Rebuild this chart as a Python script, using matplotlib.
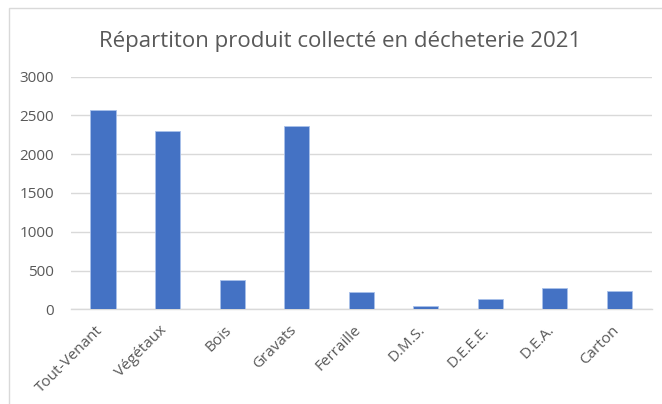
import matplotlib
matplotlib.use("Agg")
import matplotlib.pyplot as plt
from matplotlib.patches import Rectangle
from matplotlib.transforms import ScaledTranslation

categories = ["Tout-Venant", "Végétaux", "Bois", "Gravats", "Ferraille",
              "D.M.S.", "D.E.E.E.", "D.E.A.", "Carton"]
values = [2572, 2298, 374, 2358, 225, 45, 133, 270, 240]
yticks = [0, 500, 1000, 1500, 2000, 2500, 3000]
title = "Répartiton produit collecté en décheterie 2021"

W, H = 662, 404
fig = plt.figure(figsize=(W / 100, H / 100), dpi=100)
fig.patch.set_facecolor("white")

# outer chart border
fig.patches.append(Rectangle((9 / W, -0.05), 1.2, (H - 8) / H + 0.05,
                             transform=fig.transFigure, fill=False,
                             edgecolor="#d9d9d9", linewidth=1.0))

ax = fig.add_axes([70.7 / W, (H - 309.3) / H, (651.7 - 70.7) / W,
                   (309.3 - 76.7) / H])
x = list(range(len(categories)))
ax.bar(x, values, width=0.39, color="#4472C4", edgecolor="#a9c1ea",
       linewidth=0.6, zorder=3)
ax.set_xlim(-0.5, len(categories) - 0.5)
ax.set_ylim(0, 3000)
ax.set_yticks(yticks)
ax.set_yticklabels([str(v) for v in yticks])
ax.yaxis.grid(True, color="#d9d9d9", linewidth=1.0, zorder=0)
ax.set_axisbelow(True)
for s in ["top", "right", "left"]:
    ax.spines[s].set_visible(False)
ax.spines["bottom"].set_color("#d9d9d9")
ax.spines["bottom"].set_linewidth(1.0)
ax.tick_params(axis="both", length=0, colors="#595959", labelsize=11)
ax.tick_params(axis="y", pad=12)
ax.set_xticks(x)
ax.set_xticklabels(categories, rotation=45, ha="right", va="top",
                   rotation_mode="anchor")
ax.tick_params(axis="x", pad=6)
off = ScaledTranslation(-8 / 100, -5 / 100, fig.dpi_scale_trans)
for lab in ax.get_xticklabels():
    lab.set_transform(lab.get_transform() + off)
for lab in ax.get_xticklabels() + ax.get_yticklabels():
    lab.set_fontfamily("Open Sans")

fig.text(340 / W, 1 - 42 / H, title, ha="center", va="center",
         fontsize=16, color="#595959", family="Open Sans")

fig.savefig("out.png", dpi=100)
